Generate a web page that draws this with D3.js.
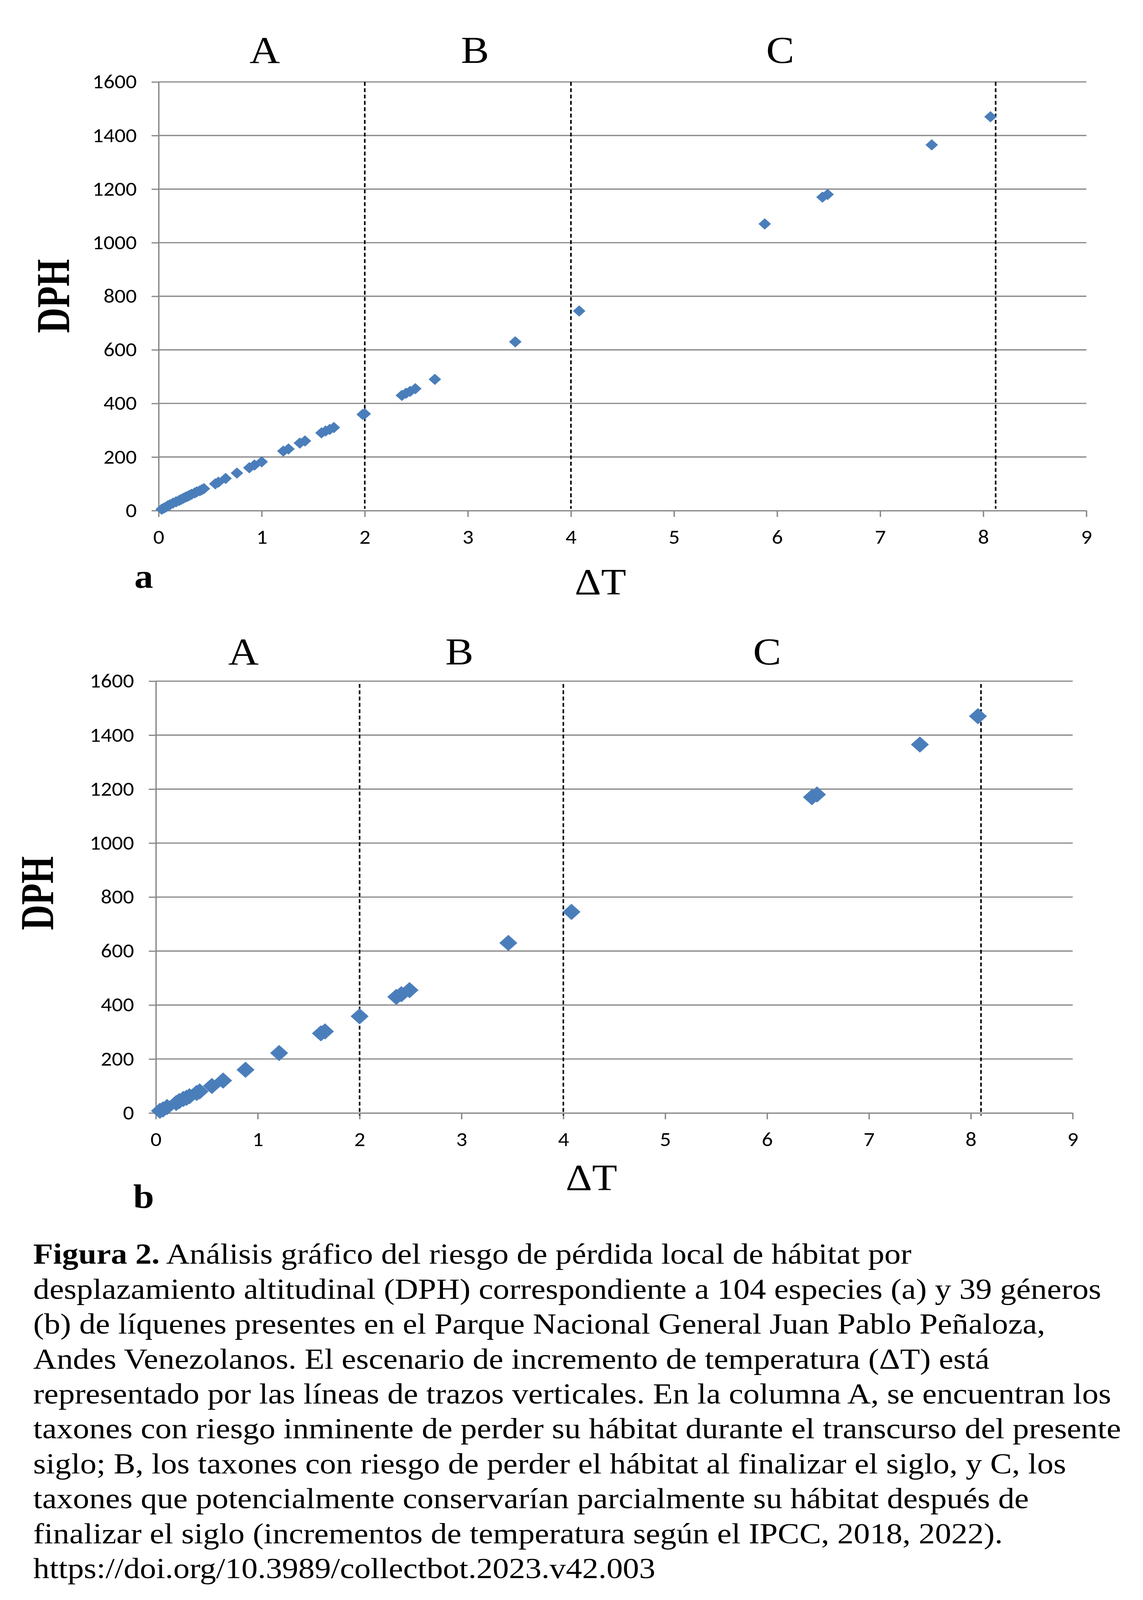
<!DOCTYPE html>
<html>
<head>
<meta charset="utf-8" />
<script src="https://d3js.org/d3.v7.min.js"></script>
<style>
  html, body { margin: 0; padding: 0; background: #fff; overflow: hidden; }
  svg { display: block; }
</style>
</head>
<body>
<div id="fig"></div>
<script>

// ---- data ----
var xTicks = [0, 1, 2, 3, 4, 5, 6, 7, 8, 9];
var yTicks = [0, 200, 400, 600, 800, 1000, 1200, 1400, 1600];
var zoneNames = ["A", "B", "C"];

// (a) 104 especies: delta T vs DPH (many overlap)
var speciesT   = [0.03, 0.05, 0.07, 0.09, 0.11, 0.14, 0.17, 0.20, 0.22, 0.24, 0.26, 0.28, 0.30, 0.32, 0.35, 0.37, 0.40, 0.42, 0.44,
                  0.55, 0.58, 0.65, 0.76, 0.88, 0.93, 1.00, 1.21, 1.26, 1.37, 1.42, 1.58, 1.62, 1.66, 1.70, 1.98, 2.00,
                  2.36, 2.40, 2.44, 2.49, 2.68, 3.46, 4.08, 5.88, 6.44, 6.49, 7.50, 8.07];
var speciesDPH = [5, 9, 13, 18, 22, 28, 33, 38, 42, 46, 50, 53, 57, 61, 66, 70, 74, 78, 82,
                  100, 106, 120, 140, 160, 170, 182, 222, 230, 252, 260, 290, 297, 303, 310, 359, 361,
                  430, 438, 445, 455, 490, 630, 745, 1070, 1170, 1180, 1365, 1470];

// (b) 39 generos
var generaT   = [0.04, 0.07, 0.11, 0.20, 0.23, 0.27, 0.30, 0.33, 0.40, 0.43, 0.55, 0.66, 0.88, 1.21, 1.62, 1.66, 2.00,
                 2.36, 2.41, 2.49, 3.46, 4.08, 6.44, 6.49, 7.50, 8.07];
var generaDPH = [8, 13, 22, 37, 44, 52, 56, 62, 74, 80, 100, 120, 160, 222, 295, 302, 358,
                 430, 440, 455, 630, 745, 1170, 1180, 1365, 1470];

// scenario limits (dashed verticals)
var speciesLimits = [2, 4, 8.12];
var generaLimits  = [2, 4, 8.1];

var captionBold = "Figura 2.";
var captionLines = [
  " Análisis gráfico del riesgo de pérdida local de hábitat por",
  "desplazamiento altitudinal (DPH) correspondiente a 104 especies (a) y 39 géneros",
  "(b) de líquenes presentes en el Parque Nacional General Juan Pablo Peñaloza,",
  "Andes Venezolanos. El escenario de incremento de temperatura (ΔT) está",
  "representado por las líneas de trazos verticales. En la columna A, se encuentran los",
  "taxones con riesgo inminente de perder su hábitat durante el transcurso del presente",
  "siglo; B, los taxones con riesgo de perder el hábitat al finalizar el siglo, y C, los",
  "taxones que potencialmente conservarían parcialmente su hábitat después de",
  "finalizar el siglo (incrementos de temperatura según el IPCC, 2018, 2022).",
  "https://doi.org/10.3989/collectbot.2023.v42.003"
];

// ---- layout ----
var W = 2926, H = 4550;
var serif = "'Liberation Serif', 'Times New Roman', serif";
var sans = "Carlito, Calibri, Lato, sans-serif";
var gridColor = "#888888";
var markColor = "#4a7ebb";

// the drawing is laid out in a 2926x4550 box and fitted to the window
var svg = d3.select("#fig").append("svg")
  .attr("viewBox", "0 0 " + W + " " + H)
  .attr("preserveAspectRatio", "none")
  .style("width", "100vw")
  .style("height", "100vh")
  .style("background", "#fff");

var panels = [
  { left: 406, right: 2781, bottom: 1452, top: 233, zones: [1.03, 3.07, 6.03], zoneY: 179,
    dphX: 177, dphY: 842, dtX: 1537, dtY: 1691, tag: "a", tagX: 344, tagY: 1672,
    markD: 32, T: speciesT, D: speciesDPH, limits: speciesLimits, dashTop: 0, dashBottom: -5 },
  { left: 399, right: 2746, bottom: 3165, top: 1937, zones: [0.86, 2.98, 6.0], zoneY: 1889,
    dphX: 136, dphY: 2540, dtX: 1514, dtY: 3385, tag: "b", tagX: 341, tagY: 3435,
    markD: 46, T: generaT, D: generaDPH, limits: generaLimits, dashTop: 8, dashBottom: 7 }
];

panels.forEach(function(p) {
  var x = d3.scaleLinear().domain([0, 9]).range([p.left, p.right]);
  var y = d3.scaleLinear().domain([0, 1600]).range([p.bottom, p.top]);
  var g = svg.append("g");

  // horizontal gridlines
  g.append("g").selectAll("line")
    .data(yTicks.slice(1))
    .enter().append("line")
      .attr("x1", p.left).attr("x2", p.right)
      .attr("y1", function(d) { return y(d); })
      .attr("y2", function(d) { return y(d); })
      .attr("stroke", gridColor)
      .attr("stroke-width", 3.5);

  // x axis
  var xa = g.append("g")
    .attr("transform", "translate(0," + p.bottom + ")")
    .call(d3.axisBottom(x).tickValues(xTicks).tickFormat(d3.format("d"))
      .tickSize(18).tickSizeOuter(0).tickPadding(36));

  // y axis
  var ya = g.append("g")
    .attr("transform", "translate(" + p.left + ",0)")
    .call(d3.axisLeft(y).tickValues(yTicks).tickFormat(d3.format("d"))
      .tickSize(18).tickSizeOuter(0).tickPadding(38));

  [xa, ya].forEach(function(a) {
    a.select(".domain").attr("stroke", gridColor).attr("stroke-width", 3.5);
    a.selectAll(".tick line").attr("stroke", gridColor).attr("stroke-width", 3.5);
    a.selectAll(".tick text")
      .style("font-family", sans)
      .style("font-size", "56px")
      .attr("fill", "#000");
  });

  // dashed scenario lines
  g.append("g").selectAll("line")
    .data(p.limits)
    .enter().append("line")
      .attr("x1", function(d) { return x(d); })
      .attr("x2", function(d) { return x(d); })
      .attr("y1", y(1600) + p.dashTop)
      .attr("y2", y(0) + p.dashBottom)
      .attr("stroke", "#000")
      .attr("stroke-width", 4)
      .attr("stroke-dasharray", "11,7");

  // diamond markers
  var diamond = d3.symbol().type(d3.symbolSquare).size(p.markD * p.markD / 2);
  g.append("g").selectAll("path")
    .data(p.T.map(function(t, i) { return [t, p.D[i]]; }))
    .enter().append("path")
      .attr("d", diamond)
      .attr("transform", function(d) { return "translate(" + x(d[0]) + "," + y(d[1]) + ") rotate(45)"; })
      .attr("fill", markColor);

  // zone letters
  g.append("g").selectAll("text")
    .data(zoneNames)
    .enter().append("text")
      .attr("x", function(d, i) { return x(p.zones[i]); })
      .attr("y", p.zoneY)
      .attr("text-anchor", "middle")
      .style("font-family", serif)
      .style("font-size", "108px")
      .text(function(d) { return d; });

  // axis titles
  g.append("text")
    .attr("transform", "translate(" + p.dphX + "," + p.dphY + ") rotate(-90)")
    .attr("text-anchor", "middle")
    .attr("textLength", 210)
    .attr("lengthAdjust", "spacingAndGlyphs")
    .style("font-family", serif)
    .style("font-weight", "bold")
    .style("font-size", "120px")
    .text("DPH");

  g.append("text")
    .attr("x", p.dtX).attr("y", p.dtY)
    .attr("text-anchor", "middle")
    .style("font-family", serif)
    .style("font-size", "105px")
    .text("ΔT");

  g.append("text")
    .attr("x", p.tagX).attr("y", p.tagY)
    .style("font-family", serif)
    .style("font-weight", "bold")
    .style("font-size", "96px")
    .text(p.tag);
});

// caption: size the font so the widest line fills the text block
var cap = svg.append("g");
var probe = cap.append("text")
  .style("font-family", serif).style("font-size", "100px")
  .text(captionLines[5]);
var capSize = 100 * (2785 / probe.node().getComputedTextLength());
probe.remove();

captionLines.forEach(function(line, i) {
  var t = cap.append("text")
    .attr("x", 85)
    .attr("y", 3594 + i * 99.3)
    .style("font-family", serif)
    .style("font-size", capSize + "px")
    .attr("fill", "#000");
  if (i === 0) {
    t.append("tspan").style("font-weight", "bold").text(captionBold);
  }
  t.append("tspan").text(line);
});

</script>
</body>
</html>
